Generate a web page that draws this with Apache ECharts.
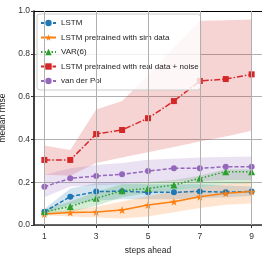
<!DOCTYPE html>
<html><head><meta charset="utf-8">
<script src="https://cdn.jsdelivr.net/npm/echarts@6/dist/echarts.min.js"></script>
<style>html,body{margin:0;padding:0;background:#fff}#c{width:262px;height:258px}</style>
</head><body><div id="c"></div>
<script>
const steps = [1, 2, 3, 4, 5, 6, 7, 8, 9];
const xTicks = [1, 3, 5, 7, 9];
const lstm = [0.062, 0.132, 0.156, 0.158, 0.153, 0.153, 0.157, 0.153, 0.157];
const lstmLo = [0.05, 0.095, 0.115, 0.12, 0.12, 0.12, 0.125, 0.13, 0.135];
const lstmHi = [0.075, 0.17, 0.195, 0.195, 0.19, 0.19, 0.19, 0.185, 0.18];
const lstmSim = [0.051, 0.058, 0.061, 0.07, 0.093, 0.109, 0.132, 0.148, 0.156];
const lstmSimLo = [0.045, 0.04, 0.035, 0.03, 0.04, 0.06, 0.08, 0.095, 0.1];
const lstmSimHi = [0.06, 0.07, 0.085, 0.11, 0.135, 0.155, 0.175, 0.19, 0.2];
const var6 = [0.062, 0.086, 0.125, 0.16, 0.171, 0.187, 0.218, 0.249, 0.249];
const var6Lo = [0.045, 0.06, 0.09, 0.13, 0.15, 0.16, 0.175, 0.19, 0.195];
const var6Hi = [0.075, 0.11, 0.155, 0.19, 0.2, 0.21, 0.23, 0.26, 0.26];
const lstmReal = [0.304, 0.304, 0.425, 0.444, 0.499, 0.579, 0.673, 0.682, 0.704];
const lstmRealLo = [0.235, 0.23, 0.29, 0.316, 0.34, 0.365, 0.39, 0.414, 0.44];
const lstmRealHi = [0.372, 0.35, 0.54, 0.58, 0.70, 0.83, 0.955, 0.957, 0.96];
const vdp = [0.179, 0.218, 0.229, 0.237, 0.252, 0.265, 0.265, 0.272, 0.272];
const vdpLo = [0.13, 0.18, 0.186, 0.19, 0.2, 0.205, 0.205, 0.21, 0.21];
const vdpHi = [0.235, 0.265, 0.28, 0.29, 0.305, 0.31, 0.315, 0.318, 0.32];

const FONT = '"Liberation Sans", Arial, sans-serif';
const STAR = 'path://M50,0 L61,35 L98,35 L68,57 L79,91 L50,70 L21,91 L32,57 L2,35 L39,35 Z';

const defs = [
  {name: 'LSTM', med: lstm, lo: lstmLo, hi: lstmHi, color: '#1f77b4', type: [4, 2], symbol: 'circle', size: 6},
  {name: 'LSTM pretrained with sim data', med: lstmSim, lo: lstmSimLo, hi: lstmSimHi, color: '#ff7f0e', type: 'solid', symbol: STAR, size: 8},
  {name: 'VAR(6)', med: var6, lo: var6Lo, hi: var6Hi, color: '#2ca02c', type: [1.5, 2], symbol: 'triangle', size: 7},
  {name: 'LSTM pretrained with real data + noise', med: lstmReal, lo: lstmRealLo, hi: lstmRealHi, color: '#d62728', type: [6, 2, 1.5, 2], symbol: 'rect', size: 6},
  {name: 'van der Pol', med: vdp, lo: vdpLo, hi: vdpHi, color: '#9467bd', type: [4, 2], symbol: 'circle', size: 6}
];

function hexA(h, a) {
  const r = parseInt(h.slice(1, 3), 16), g = parseInt(h.slice(3, 5), 16), b = parseInt(h.slice(5, 7), 16);
  return `rgba(${r},${g},${b},${a})`;
}

const series = [];
series.push({
  name: 'bands', type: 'custom', silent: true, z: 1, animation: false,
  data: defs.map((d, i) => [i]),
  renderItem: function (params, api) {
    const d = defs[params.dataIndex];
    const pts = [];
    steps.forEach((s, k) => pts.push(api.coord([s, d.hi[k]])));
    for (let k = steps.length - 1; k >= 0; k--) pts.push(api.coord([steps[k], d.lo[k]]));
    return {
      type: 'polygon', shape: {points: pts},
      style: {fill: hexA(d.color, 0.2), stroke: 'none'}
    };
  }
});
defs.forEach((d) => {
  series.push({
    name: d.name, type: 'line', data: steps.map((s, k) => [s, d.med[k]]),
    symbol: d.symbol, symbolSize: d.size,
    itemStyle: {color: d.color},
    lineStyle: {color: d.color, width: 1.5, type: d.type},
    z: 3, animation: false
  });
});
series.push({
  name: 'vgrid', type: 'line', data: [], silent: true, z: 0,
  markLine: {
    silent: true, symbol: 'none', label: {show: false}, animation: false,
    lineStyle: {color: '#b0b0b0', width: 1, type: 'solid'},
    data: xTicks.map(v => ({xAxis: v}))
  }
});

const chart = echarts.init(document.getElementById('c'), null, {renderer: 'canvas'});
chart.setOption({
  animation: false,
  backgroundColor: '#fff',
  textStyle: {fontFamily: FONT},
  grid: {left: 34, right: 0, top: 11, bottom: 33, containLabel: false, outerBoundsMode: 'none'},
  xAxis: [{
    type: 'value', min: 0.6, max: 9.4,
    name: 'steps ahead', nameLocation: 'middle', nameGap: 21,
    nameTextStyle: {fontFamily: FONT, fontSize: 8.5, color: '#222'},
    axisLine: {show: true, onZero: false, lineStyle: {color: '#333', width: 1.5}},
    axisTick: {show: true, length: 3, customValues: xTicks, lineStyle: {color: '#333'}},
    axisLabel: {customValues: xTicks, fontFamily: FONT, fontSize: 8.5, color: '#333', margin: 7},
    splitLine: {show: false}
  }, {
    type: 'value', min: 0.6, max: 9.4, position: 'top',
    axisLine: {show: true, onZero: false, lineStyle: {color: '#000', width: 1.2}},
    axisTick: {show: false}, axisLabel: {show: false}, splitLine: {show: false}
  }],
  yAxis: {
    type: 'value', min: 0, max: 1, interval: 0.2,
    name: 'median rmse', nameLocation: 'middle', nameGap: 25,
    nameTextStyle: {fontFamily: FONT, fontSize: 8.5, color: '#222'},
    axisLine: {show: true, onZero: false, lineStyle: {color: '#000', width: 1.5}},
    axisTick: {show: true, length: 3, lineStyle: {color: '#333'}},
    axisLabel: {fontFamily: FONT, fontSize: 8.5, color: '#333', margin: 4, formatter: v => v.toFixed(1)},
    splitLine: {show: true, lineStyle: {color: '#b0b0b0', width: 1}}
  },
  legend: {
    data: defs.map(d => d.name),
    orient: 'vertical', left: 37, top: 14,
    padding: [5, 2, 5, 3], itemGap: 6.5, itemWidth: 15, itemHeight: 8,
    backgroundColor: 'rgba(255,255,255,0.8)', borderColor: '#cccccc', borderWidth: 1, borderRadius: 3,
    textStyle: {fontFamily: FONT, fontSize: 8, color: '#222'},
    selectedMode: false
  },
  series: series
});
</script></body></html>
